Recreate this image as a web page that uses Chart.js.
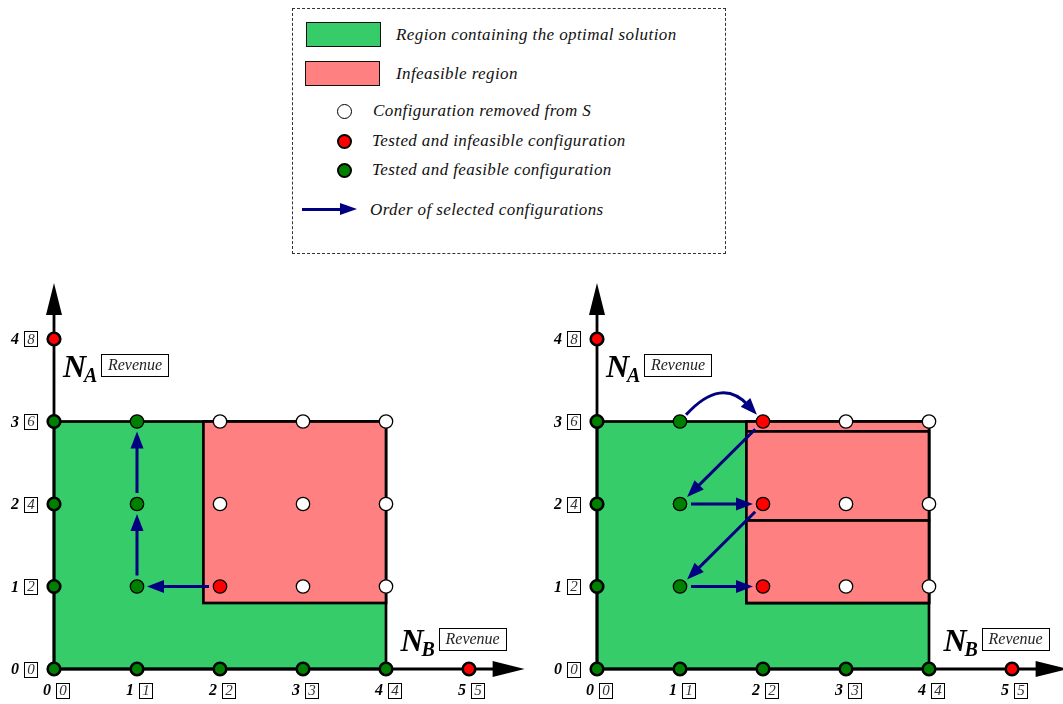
<!DOCTYPE html>
<html>
<head>
<meta charset="utf-8">
<script src="https://cdn.jsdelivr.net/npm/chart.js@4.4.1/dist/chart.umd.min.js"></script>
<style>
  html, body { margin: 0; padding: 0; background: #fff; }
  body { width: 1063px; height: 704px; position: relative; overflow: hidden; font-family: "Liberation Serif", "DejaVu Serif", serif; }
  canvas.panel { position: absolute; top: 270px; }
  #legend { position: absolute; left: 292px; top: 8px; width: 432px; height: 244px; border: 1px dashed #333; }
  #legend .swatch { position: absolute; box-sizing: border-box; border: 1.5px solid #111; }
  #legend .dot { position: absolute; box-sizing: border-box; width: 15px; height: 15px; border-radius: 50%; border: 2.6px solid #000; }
  #legend .txt { position: absolute; font-style: italic; font-size: 17px; line-height: 20px; white-space: nowrap; color: #111; letter-spacing: 0.4px; }
  #legend .shaft { position: absolute; height: 3px; background: #000080; }
  #legend .head { position: absolute; width: 0; height: 0; border-top: 6.5px solid transparent; border-bottom: 6.5px solid transparent; border-left: 17px solid #000080; }
</style>
</head>
<body>
<div id="legend">
  <div class="swatch" style="left:13px;top:13px;width:75px;height:25px;background:#37CC6A"></div>
  <div class="txt" style="left:103px;top:16px">Region containing the optimal solution</div>
  <div class="swatch" style="left:12px;top:52px;width:75px;height:25px;background:#FF8080"></div>
  <div class="txt" style="left:103px;top:55px">Infeasible region</div>
  <div class="dot" style="left:44px;top:95px;background:#fff;border-width:1.4px"></div>
  <div class="txt" style="left:80px;top:92px">Configuration removed from <span>S</span></div>
  <div class="dot" style="left:44px;top:125px;background:#FF0000"></div>
  <div class="txt" style="left:79px;top:122px">Tested and infeasible configuration</div>
  <div class="dot" style="left:44px;top:154px;background:#008000"></div>
  <div class="txt" style="left:79px;top:151px">Tested and feasible configuration</div>
  <div class="shaft" style="left:9px;top:199px;width:42px"></div>
  <div class="head" style="left:47px;top:194px"></div>
  <div class="txt" style="left:77px;top:191px">Order of selected configurations</div>
</div>
<canvas id="stepOne" class="panel" width="531" height="434" style="left:0px"></canvas>
<canvas id="stepTwo" class="panel" width="520" height="434" style="left:543px"></canvas>

<script>
// ---- axis ticks: number of instances and the matching revenue ----
const nbValues  = [0, 1, 2, 3, 4, 5];
const nbRevenue = [0, 1, 2, 3, 4, 5];
const naValues  = [0, 1, 2, 3, 4];
const naRevenue = [0, 2, 4, 6, 8];

// ---- configurations on the axes (points are [N_B, N_A]) ----
const axisFeasible   = [[0, 0], [0, 1], [0, 2], [0, 3], [1, 0], [2, 0], [3, 0], [4, 0]];
const axisInfeasible = [[0, 4], [5, 0]];

// ---- first step ----
const stepOneFeasible   = [[1, 1], [1, 2], [1, 3]];
const stepOneInfeasible = [[2, 1]];
const stepOneRemoved    = [[2, 2], [2, 3], [3, 1], [3, 2], [3, 3], [4, 1], [4, 2], [4, 3]];
const stepOneOrder      = [[2, 1], [1, 1], [1, 2], [1, 3]];
const stepOneArcs       = [];
// regions as [N_B from, N_B to, N_A from, N_A to]
const stepOneOptimalRegions    = [[0, 4, 0, 3]];
const stepOneInfeasibleRegions = [[1.8, 4, 0.8, 3]];

// ---- second step ----
const stepTwoFeasible   = [[1, 1], [1, 2], [1, 3]];
const stepTwoInfeasible = [[2, 3], [2, 2], [2, 1]];
const stepTwoRemoved    = [[3, 1], [3, 2], [3, 3], [4, 1], [4, 2], [4, 3]];
const stepTwoOrder      = [[1, 3], [2, 3], [1, 2], [2, 2], [1, 1], [2, 1]];
const stepTwoArcs       = [0];
const stepTwoOptimalRegions    = [[0, 4, 0, 3]];
const stepTwoInfeasibleRegions = [[1.8, 4, 0.8, 3], [1.8, 4, 1.8, 2.88], [1.8, 4, 0.8, 1.8]];

// ---- styling ----
const COLORS = {
  optimal: '#37CC6A',
  infeasible: '#FF8080',
  pointGreen: '#008000',
  pointRed: '#FF0000',
  pointWhite: '#FFFFFF',
  order: '#000080',
  ink: '#000000'
};
const ORIGIN_X = 54, ORIGIN_Y = 399, UNIT_X = 83, UNIT_Y = 82.5;
const AXIS_END_X = 5.67, AXIS_END_Y = 4.68;

function toXY(list) { return list.map(p => ({ x: p[0], y: p[1] })); }

function drawHead(ctx, tx, ty, ux, uy, len, half, color) {
  const bx = tx - ux * len, by = ty - uy * len;
  ctx.beginPath();
  ctx.moveTo(tx, ty);
  ctx.lineTo(bx - uy * half, by + ux * half);
  ctx.lineTo(bx + uy * half, by - ux * half);
  ctx.closePath();
  ctx.fillStyle = color;
  ctx.fill();
}

function drawTickLabel(ctx, num, rev, numRight, boxLeft, cy) {
  ctx.save();
  ctx.textBaseline = 'middle';
  ctx.font = 'bold italic 16px "Liberation Serif"';
  ctx.fillStyle = '#000';
  ctx.textAlign = 'right';
  ctx.fillText(String(num), numRight, cy + 1);
  ctx.lineWidth = 1;
  ctx.strokeStyle = '#000';
  ctx.strokeRect(Math.round(boxLeft) + 0.5, Math.round(cy - 7.5) + 0.5, 13, 15);
  ctx.font = 'italic 15px "Liberation Serif"';
  ctx.fillStyle = '#333';
  ctx.textAlign = 'center';
  ctx.fillText(String(rev), boxLeft + 7, cy + 1);
  ctx.restore();
}

function drawAxisTitle(ctx, left, baseline, sub) {
  ctx.save();
  ctx.fillStyle = '#000';
  ctx.textBaseline = 'alphabetic';
  ctx.textAlign = 'left';
  ctx.font = 'bold italic 32px "Liberation Serif"';
  ctx.fillText('N', left - 2, baseline);
  ctx.font = 'bold italic 20px "Liberation Serif"';
  ctx.fillText(sub, left + 19, baseline + 5);
  const bx = left + 36, by = baseline - 23;
  ctx.fillStyle = '#fff';
  ctx.fillRect(bx, by, 68, 23);
  ctx.lineWidth = 1;
  ctx.strokeStyle = '#000';
  ctx.strokeRect(Math.round(bx) + 0.5, Math.round(by) + 0.5, 67, 22);
  ctx.fillStyle = '#222';
  ctx.font = 'italic 16px "Liberation Serif"';
  ctx.textAlign = 'center';
  ctx.textBaseline = 'middle';
  ctx.fillText('Revenue', bx + 34, by + 12);
  ctx.restore();
}

const diagramPlugin = {
  id: 'diagram',
  beforeDatasetsDraw(chart, args, opts) {
    const { ctx } = chart;
    const xs = chart.scales.x, ys = chart.scales.y;
    const px = v => xs.getPixelForValue(v);
    const py = v => ys.getPixelForValue(v);

    ctx.save();
    // regions
    const rect = (r, fill) => {
      const x0 = px(r[0]), x1 = px(r[1]), y0 = py(r[3]), y1 = py(r[2]);
      ctx.fillStyle = fill;
      ctx.fillRect(x0, y0, x1 - x0, y1 - y0);
      ctx.lineWidth = 2.7;
      ctx.strokeStyle = COLORS.ink;
      ctx.strokeRect(x0, y0, x1 - x0, y1 - y0);
    };
    opts.optimal.forEach(r => rect(r, COLORS.optimal));
    opts.infeasible.forEach(r => rect(r, COLORS.infeasible));

    // axes with arrow heads
    const ox = px(0), oy = py(0);
    ctx.lineWidth = 2.8;
    ctx.strokeStyle = COLORS.ink;
    ctx.beginPath();
    ctx.moveTo(ox, oy);
    ctx.lineTo(ox, py(AXIS_END_Y) + 20);
    ctx.moveTo(ox, oy);
    ctx.lineTo(px(AXIS_END_X) - 20, oy);
    ctx.stroke();
    drawHead(ctx, ox, py(AXIS_END_Y), 0, -1, 32, 8, COLORS.ink);
    drawHead(ctx, px(AXIS_END_X), oy, 1, 0, 32, 8, COLORS.ink);

    // tick labels
    naValues.forEach((v, i) => drawTickLabel(ctx, v, naRevenue[i], ox - 35, ox - 30, py(v)));
    nbValues.forEach((v, i) => drawTickLabel(ctx, v, nbRevenue[i], px(v) - 3, px(v) + 2, oy + 21));

    // axis titles
    drawAxisTitle(ctx, ox + 11, py(3.54), 'A');
    drawAxisTitle(ctx, px(4.2), py(0.22), 'B');

    // order of selected configurations
    const order = opts.order;
    ctx.strokeStyle = COLORS.order;
    ctx.lineWidth = 3;
    for (let i = 0; i < order.length - 1; i++) {
      const ax = px(order[i][0]), ay = py(order[i][1]);
      const bx = px(order[i + 1][0]), by = py(order[i + 1][1]);
      if (opts.arcs.includes(i)) {
        const dist = Math.hypot(bx - ax, by - ay);
        const cx = (ax + bx) / 2, cy = (ay + by) / 2 - 0.55 * dist;
        let dx = cx - ax, dy = cy - ay, d = Math.hypot(dx, dy);
        const sx = ax + dx / d * 9, sy = ay + dy / d * 9;
        dx = bx - cx; dy = by - cy; d = Math.hypot(dx, dy);
        const ux = dx / d, uy = dy / d;
        const tx = bx - ux * 9, ty = by - uy * 9;
        ctx.beginPath();
        ctx.moveTo(sx, sy);
        ctx.quadraticCurveTo(cx, cy, tx - ux * 12, ty - uy * 12);
        ctx.stroke();
        drawHead(ctx, tx, ty, ux, uy, 17, 6.5, COLORS.order);
      } else {
        const dx = bx - ax, dy = by - ay, d = Math.hypot(dx, dy);
        const ux = dx / d, uy = dy / d;
        const sx = ax + ux * 11, sy = ay + uy * 11;
        const tx = bx - ux * 10, ty = by - uy * 10;
        ctx.beginPath();
        ctx.moveTo(sx, sy);
        ctx.lineTo(tx - ux * 14, ty - uy * 14);
        ctx.stroke();
        drawHead(ctx, tx, ty, ux, uy, 17, 6.5, COLORS.order);
      }
    }
    ctx.restore();
  }
};

function makePanel(id, feasible, infeasible, removed, order, arcs, optimalRegions, infeasibleRegions) {
  const canvas = document.getElementById(id);
  const w = canvas.width, h = canvas.height;
  const pointSet = (data, color, thick) => ({
    data: toXY(data),
    backgroundColor: color,
    borderColor: COLORS.ink,
    borderWidth: thick ? 2.6 : 1.3,
    pointRadius: thick ? 6.3 : 6.7,
    pointHoverRadius: thick ? 6.3 : 6.7,
    clip: false
  });
  return new Chart(canvas, {
    type: 'scatter',
    data: {
      datasets: [
        pointSet(removed, COLORS.pointWhite, false),
        pointSet(infeasible, COLORS.pointRed, false),
        pointSet(feasible, COLORS.pointGreen, false),
        pointSet(axisInfeasible, COLORS.pointRed, true),
        pointSet(axisFeasible, COLORS.pointGreen, true)
      ]
    },
    options: {
      responsive: false,
      animation: false,
      devicePixelRatio: 1,
      events: [],
      layout: { padding: 0, autoPadding: false },
      scales: {
        x: { type: 'linear', display: false, min: -ORIGIN_X / UNIT_X, max: (w - ORIGIN_X) / UNIT_X },
        y: { type: 'linear', display: false, min: -(h - ORIGIN_Y) / UNIT_Y, max: ORIGIN_Y / UNIT_Y }
      },
      plugins: {
        legend: { display: false },
        tooltip: { enabled: false },
        diagram: { order: order, arcs: arcs, optimal: optimalRegions, infeasible: infeasibleRegions }
      }
    },
    plugins: [diagramPlugin]
  });
}

makePanel('stepOne', stepOneFeasible, stepOneInfeasible, stepOneRemoved, stepOneOrder, stepOneArcs,
          stepOneOptimalRegions, stepOneInfeasibleRegions);
makePanel('stepTwo', stepTwoFeasible, stepTwoInfeasible, stepTwoRemoved, stepTwoOrder, stepTwoArcs,
          stepTwoOptimalRegions, stepTwoInfeasibleRegions);
</script>
</body>
</html>
